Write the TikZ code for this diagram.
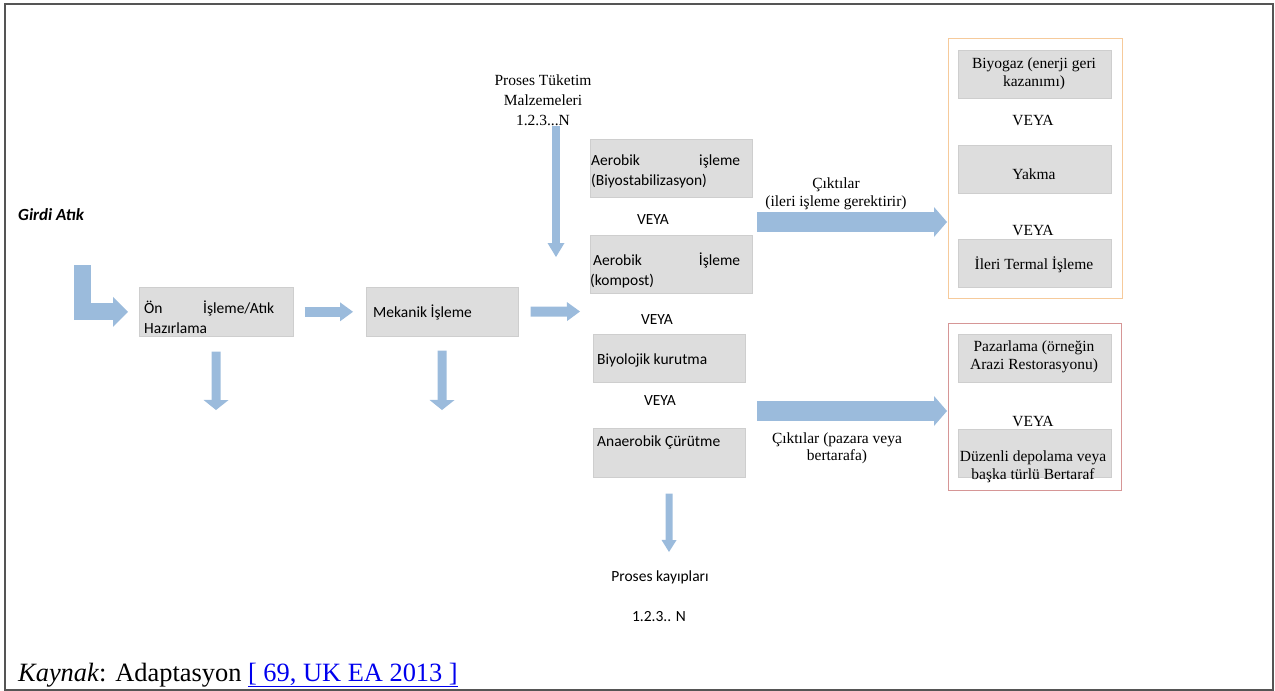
\documentclass[tikz,border=0pt]{standalone}
\usepackage{fontspec}
\setmainfont{Liberation Serif}
\newfontfamily\calibrifont{Carlito}
\usetikzlibrary{arrows.meta}

\definecolor{arrowblue}{RGB}{155,187,220}
\definecolor{boxgray}{RGB}{221,221,221}
\definecolor{boxedge}{RGB}{206,206,206}
\definecolor{orangeedge}{RGB}{246,202,155}
\definecolor{rededge}{RGB}{214,150,150}
\definecolor{linkblue}{RGB}{0,0,238}
\definecolor{framegray}{RGB}{85,85,85}

\tikzset{
  procbox/.style={draw=boxedge, fill=boxgray, line width=0.6pt, inner sep=0pt, anchor=north west},
  panel/.style={line width=1.2pt, inner sep=0pt, anchor=north west},
  ctext/.style={font=\calibrifont\fontsize{15.5}{20}\selectfont, inner sep=0pt},
  stext/.style={font=\fontsize{15.5}{18}\selectfont, inner sep=0pt, align=center},
  flow/.style={arrowblue, line cap=butt, line join=miter},
  lflow/.style={flow, line width=17pt, -{Triangle[length=15pt,width=30pt,line width=0pt]}},
  smallflow/.style={flow, line width=10pt, -{Triangle[length=13pt,width=19pt,line width=0pt]}},
  downflow/.style={flow, line width=9pt, -{Triangle[length=10pt,width=25pt,line width=0pt]}},
  feedflow/.style={flow, line width=8pt, -{Triangle[length=14pt,width=17pt,line width=0pt]}},
  lossflow/.style={flow, line width=7pt, -{Triangle[length=12pt,width=15pt,line width=0pt]}},
  bigflow/.style={flow, line width=20pt, -{Triangle[length=13pt,width=30pt,line width=0pt]}},
}

\begin{document}
\begin{tikzpicture}[x=1pt,y=-1pt]
\useasboundingbox (0,0) rectangle (1275,691);
\draw[framegray, line width=2pt] (5,4) rectangle (1273,690);

% input waste
\node[ctext, font=\calibrifont\bfseries\itshape\fontsize{17}{20}\selectfont, anchor=west] (input) at (18,215) {Girdi Atık};

% pre-treatment and mechanical treatment
\node[procbox, minimum width=154pt, minimum height=49pt] (pre) at (139,287) {};
\node[ctext, align=left, anchor=west] (preT) at (144,317) {\makebox[130pt][s]{Ön\hfill İşleme/Atık}\\Hazırlama};
\node[procbox, minimum width=152pt, minimum height=49pt] (mech) at (366,287) {};
\node[ctext, anchor=west] (mechT) at (373,312) {Mekanik İşleme};

% biological treatment options
\node[procbox, minimum width=162pt, minimum height=58pt] (aer) at (590,139) {};
\node[ctext, align=left, anchor=west] (aerT) at (591,171) {\makebox[149pt][s]{Aerobik\hfill işleme}\\(Biyostabilizasyon)};
\node[ctext] (or1) at (653,220) {VEYA};
\node[procbox, minimum width=162pt, minimum height=58pt] (comp) at (590,235) {};
\node[ctext, align=left, anchor=west] (compT) at (590,270) {\makebox[150pt][s]{\hspace*{3pt}Aerobik\hfill İşleme}\\(kompost)};
\node[ctext] (or2) at (657,320) {VEYA};
\node[procbox, minimum width=152pt, minimum height=48pt] (dry) at (593,334) {};
\node[ctext, anchor=west] (dryT) at (597,360) {Biyolojik kurutma};
\node[ctext] (or3) at (660,401) {VEYA};
\node[procbox, minimum width=152pt, minimum height=49pt] (ad) at (593,428) {};
\node[ctext, anchor=west] (adT) at (597,442) {Anaerobik Çürütme};

% process consumables
\node[font=\fontsize{15.5}{20}\selectfont, inner sep=0pt, align=center] (cons) at (543,100) {Proses Tüketim\\Malzemeleri\\1.2.3...N};
\coordinate (consEnd) at (556,257);

% process losses
\coordinate (lossEnd) at (669,552);
\node[ctext] (loss) at (660,577) {Proses kayıpları};
\node[ctext] (lossN) at (659,617) {1.2.3.. N};

% outputs needing further treatment
\node[panel, draw=orangeedge, minimum width=174pt, minimum height=260pt] (outA) at (948,38) {};
\node[procbox, minimum width=153pt, minimum height=48pt] (gas) at (958,50) {};
\node[stext] (gasT) at (1034,74) {Biyogaz (enerji geri\\kazanımı)};
\node[stext] (or4) at (1033,120) {VEYA};
\node[procbox, minimum width=153pt, minimum height=48pt] (inc) at (958,145) {};
\node[stext] (incT) at (1034,174) {Yakma};
\node[stext] (or5) at (1033,230) {VEYA};
\node[procbox, minimum width=153pt, minimum height=48pt] (att) at (958,239) {};
\node[stext] (attT) at (1034,265) {İleri Termal İşleme};

% outputs for market or disposal
\node[panel, draw=rededge, minimum width=173pt, minimum height=167pt] (outB) at (948,323) {};
\node[procbox, minimum width=153pt, minimum height=48pt] (mkt) at (958,334) {};
\node[stext] (mktT) at (1034,357) {Pazarlama (örneğin\\Arazi Restorasyonu)};
\node[stext] (or6) at (1033,421) {VEYA};
\node[procbox, minimum width=153pt, minimum height=48pt] (lf) at (958,429) {};
\node[stext] (lfT) at (1033,467) {Düzenli depolama veya\\başka türlü Bertaraf};

% output labels
\node[stext] (outAT) at (836,194) {Çıktılar\\(ileri işleme gerektirir)};
\node[stext, font=\fontsize{15.5}{17}\selectfont] (outBT) at (837,448) {Çıktılar (pazara veya\\bertarafa)};
\coordinate (outAStart) at (757,222);
\coordinate (outBStart) at (757,411);
\coordinate (midIn) at (580,311.5);
\coordinate (inTop) at (82.5,265);
\coordinate (preOut) at (216,410);
\coordinate (mechOut) at (442,410);

% flow arrows
\draw[lflow, shorten >=11pt] (inTop) |- (pre.west);
\draw[smallflow, shorten <=11pt, shorten >=13pt] (pre.east) -- (mech.west);
\draw[smallflow, shorten <=12pt] (mech.east) -- (midIn);
\draw[downflow, shorten <=15pt] (pre.south) -- (preOut);
\draw[downflow, shorten <=14pt] (mech.south) -- (mechOut);
\draw[feedflow] (cons.south -| consEnd) -- (consEnd);
\draw[lossflow, shorten <=16pt] (ad.south) -- (lossEnd);
\draw[bigflow, shorten >=1pt] (outAStart) -- (outAStart -| outA.west);
\draw[bigflow, shorten >=1pt] (outBStart) -- (outBStart -| outB.west);

% source line
\node[anchor=base west, inner sep=0pt, font=\fontsize{26.4}{30}\selectfont] (src) at (18,681)
  {\textit{Kaynak}: Adaptasyon \textcolor{linkblue}{\underline{[ 69, UK EA 2013 ]}}};
\end{tikzpicture}
\end{document}
